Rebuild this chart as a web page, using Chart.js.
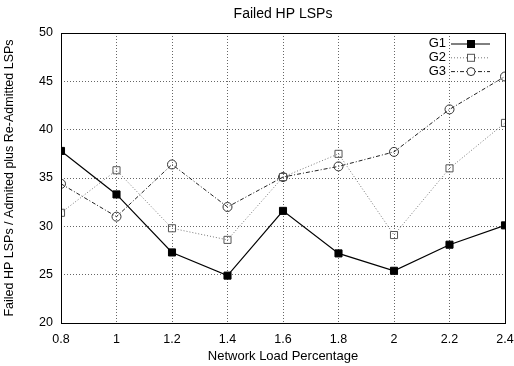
<!DOCTYPE html>
<html>
<head>
<meta charset="UTF-8">
<title>Failed HP LSPs</title>
<script src="https://cdnjs.cloudflare.com/ajax/libs/Chart.js/4.4.0/chart.umd.min.js"></script>
<style>
    html, body { margin: 0; padding: 0; background: #fff; }
    #chart_parent { width: 514px; height: 366px; }
</style>
</head>
<body>
<div id="chart_parent">
    <canvas id="myChart" width="514" height="366"></canvas>
</div>
<script>
    // data
    var loads = [0.8, 1.0, 1.2, 1.4, 1.6, 1.8, 2.0, 2.2, 2.4];
    var g1 = [37.8, 33.3, 27.3, 24.9, 31.6, 27.2, 25.4, 28.1, 30.1];
    var g2 = [31.4, 35.8, 29.8, 28.6, 35.1, 37.5, 29.1, 36.0, 40.7];
    var g3 = [34.4, 31.0, 36.4, 32.0, 35.1, 36.2, 37.7, 42.1, 45.5];
    var xTicks = [0.8, 1, 1.2, 1.4, 1.6, 1.8, 2, 2.2, 2.4];
    var yTicks = [20, 25, 30, 35, 40, 45, 50];

    var FONT = "'Liberation Sans', Arial, sans-serif";

    function pts(vals) {
        return vals.map(function (v, i) { return { x: loads[i], y: v }; });
    }

    // frame, title and gnuplot-like key
    var framePlugin = {
        id: 'frame',
        afterDraw: function (chart) {
            var c = chart.ctx, a = chart.chartArea;
            c.save();
            c.strokeStyle = '#000';
            c.lineWidth = 1;
            c.strokeRect(a.left + 0.5, a.top + 0.5, a.right - a.left, a.bottom - a.top);

            c.fillStyle = '#000';
            c.font = '14px ' + FONT;
            c.textAlign = 'center';
            c.textBaseline = 'middle';
            c.fillText('Failed HP LSPs', 283, 14);

            // key
            var names = ['G1', 'G2', 'G3'];
            c.font = '13px ' + FONT;
            c.textAlign = 'right';
            for (var i = 0; i < 3; i++) {
                var ds = chart.data.datasets[i];
                var y = 43.5 + i * 13.8;
                c.fillStyle = '#000';
                c.fillText(names[i], 446, y);
                c.beginPath();
                c.setLineDash(ds.borderDash || []);
                c.strokeStyle = ds.borderColor;
                c.lineWidth = 1;
                c.moveTo(451, y + 0.5);
                c.lineTo(490, y + 0.5);
                c.stroke();
                c.setLineDash([]);
                var cx = 471;
                if (ds.pointStyle === 'rect' && i === 0) {
                    c.fillStyle = '#000';
                    c.fillRect(cx - 4, y - 3.5, 8, 8);
                } else if (ds.pointStyle === 'rect') {
                    c.fillStyle = '#fff';
                    c.fillRect(cx - 4, y - 3.5, 8, 8);
                    c.strokeStyle = ds.pointBorderColor;
                    c.strokeRect(cx - 3.5, y - 3, 7, 7);
                } else {
                    c.beginPath();
                    c.fillStyle = '#fff';
                    c.arc(cx, y + 0.5, 4, 0, Math.PI * 2);
                    c.fill();
                    c.strokeStyle = ds.pointBorderColor;
                    c.stroke();
                }
            }
            c.restore();
        }
    };

    const ctx = document.getElementById('myChart').getContext('2d');
    const myChart = new Chart(ctx, {
        type: 'line',
        data: {
            datasets: [{
                label: 'G1',
                data: pts(g1),
                borderColor: '#000',
                borderWidth: 1.2,
                pointStyle: 'rect',
                pointRadius: 5,
                pointBackgroundColor: '#000',
                pointBorderColor: '#000',
                pointBorderWidth: 1
            }, {
                label: 'G2',
                data: pts(g2),
                borderColor: '#777',
                borderWidth: 1,
                borderDash: [1, 2],
                pointStyle: 'rect',
                pointRadius: 5,
                pointBackgroundColor: 'rgba(255,255,255,0)',
                pointBorderColor: '#555',
                pointBorderWidth: 1
            }, {
                label: 'G3',
                data: pts(g3),
                borderColor: '#222',
                borderWidth: 1,
                borderDash: [4, 2, 1, 2],
                pointStyle: 'circle',
                pointRadius: 4.5,
                pointBackgroundColor: 'rgba(255,255,255,0)',
                pointBorderColor: '#333',
                pointBorderWidth: 1
            }]
        },
        options: {
            responsive: false,
            animation: false,
            layout: { padding: { top: 33, right: 0, left: 0, bottom: 0 } },
            plugins: {
                legend: { display: false },
                title: { display: false },
                tooltip: { enabled: false }
            },
            scales: {
                x: {
                    type: 'linear',
                    min: 0.8,
                    max: 2.4,
                    afterBuildTicks: function (axis) {
                        axis.ticks = xTicks.map(function (v) { return { value: v }; });
                    },
                    afterFit: function (axis) {
                        axis.height = 43;
                        axis.paddingRight = 9;
                    },
                    ticks: {
                        color: '#000',
                        font: { family: FONT, size: 12.5 },
                        padding: 9,
                        maxRotation: 0,
                        callback: function (v) { return String(v); }
                    },
                    grid: {
                        color: '#666',
                        lineWidth: 1,
                        tickLength: 0,
                        drawTicks: false
                    },
                    border: { display: false, dash: [1, 2] },
                    title: {
                        display: true,
                        text: 'Network Load Percentage',
                        color: '#000',
                        font: { family: FONT, size: 13 },
                        padding: { top: 4, bottom: 2 }
                    }
                },
                y: {
                    min: 20,
                    max: 50,
                    afterBuildTicks: function (axis) {
                        axis.ticks = yTicks.map(function (v) { return { value: v }; });
                    },
                    afterFit: function (axis) { axis.width = 61; },
                    ticks: {
                        color: '#000',
                        font: { family: FONT, size: 12.5 },
                        padding: 8
                    },
                    grid: {
                        color: '#666',
                        lineWidth: 1,
                        tickLength: 0,
                        drawTicks: false
                    },
                    border: { display: false, dash: [1, 2] },
                    title: {
                        display: true,
                        text: 'Failed HP LSPs / Admited plus Re-Admitted LSPs',
                        color: '#000',
                        font: { family: FONT, size: 12.5 },
                        padding: { top: 2, bottom: 8 }
                    }
                }
            }
        },
        plugins: [framePlugin]
    });
</script>
</body>
</html>
